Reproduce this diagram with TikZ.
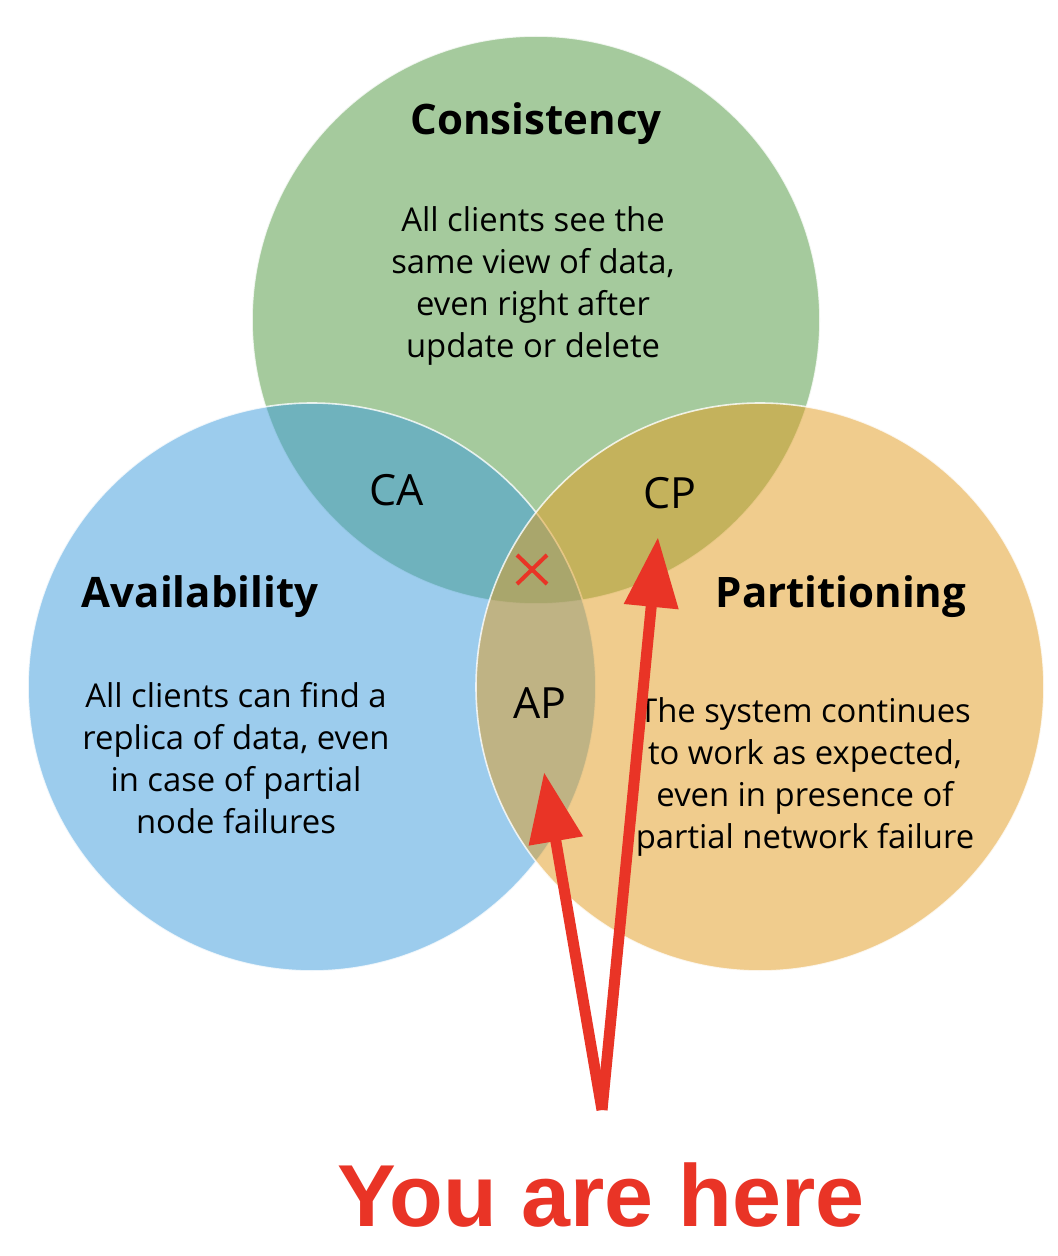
\documentclass[tikz,border=0pt]{standalone}
\usepackage{fontspec}
\setmainfont{Open Sans}
\newfontfamily\herefont{Liberation Sans}
\usetikzlibrary{arrows.meta}

\definecolor{consgreen}{RGB}{77,151,61}
\definecolor{availblue}{RGB}{59,155,221}
\definecolor{partorange}{RGB}{227,155,29}
\definecolor{herered}{RGB}{233,52,38}

\begin{document}
\begin{tikzpicture}[x=0.5pt,y=-0.5pt,
  venn/.style={draw=white,line width=0.8pt,fill opacity=0.5,draw opacity=0.8},
  head/.style={font=\fontsize{21}{25}\selectfont\bfseries},
  body/.style={align=center,font=\fontsize{16.4}{21}\selectfont},
  pair/.style={font=\fontsize{21.5}{25}\selectfont},
  pointer/.style={draw=herered,line width=5.5pt,-{Triangle[length=35pt,width=26pt]}}]
  \fill [white] (0,0) rectangle (1058,1256);
  \useasboundingbox (0,0) rectangle (1058,1256);
  \draw [venn,fill=consgreen] (536,320) circle (284);
  \draw [venn,fill=availblue] (312,687) circle (284);
  \draw [venn,fill=partorange] (760,687) circle (284);
  \node [head] (cons) at (536,124) {Consistency};
  \node [body] (constext) at (533,286) {All clients see the\\same view of data,\\even right after\\update or delete};
  \node [head] (avail) at (200,597) {Availability};
  \node [body] (availtext) at (236,758) {All clients can find a\\replica of data, even\\in case of partial\\node failures};
  \node [head] (part) at (841,597) {Partitioning};
  \node [body] (parttext) at (805,777) {The system continues\\to work as expected,\\even in presence of\\partial network failure};
  \node [pair] (ca) at (397,490) {CA};
  \node [pair] (cp) at (670,493) {CP};
  \node [pair] (ap) at (540,703) {AP};
  \draw [herered,line width=2pt] (517,555) -- (547,584) (547,555) -- (517,584);
  \node [text=herered,font=\herefont\fontsize{44}{50}\selectfont\bfseries] (here) at (601,1195) {You are here};
  \coordinate (foot) at (602,1110);
  \coordinate (cptip) at (658,537);
  \coordinate (aptip) at (544,772);
  \draw [pointer] (foot) -- (cptip);
  \draw [pointer] (foot) -- (aptip);
\end{tikzpicture}
\end{document}
